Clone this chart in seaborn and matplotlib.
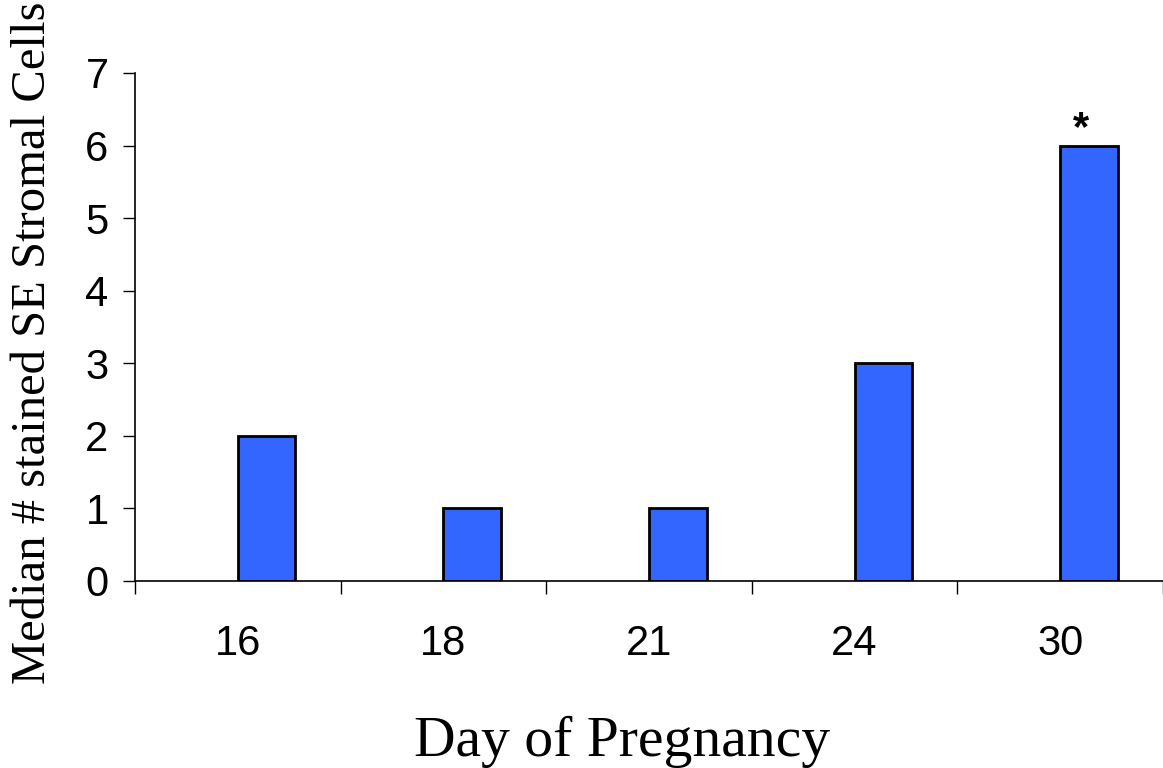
import pandas as pd
import matplotlib
matplotlib.use("Agg")
import matplotlib.pyplot as plt
import seaborn as sns

days = ['16', '18', '21', '24', '30']
median_cells = [2, 1, 1, 3, 6]
significant = ['', '', '', '', '*']

# Excel style: an empty first series pushes the real bar right of the category centre
df = pd.DataFrame({
    'Day': days * 2,
    'Median': [float('nan')] * len(days) + median_cells,
    'Series': ['blank'] * len(days) + ['median'] * len(days),
})

sns.set_style('white')
plt.rcParams['font.family'] = ['Liberation Sans', 'DejaVu Sans']
plt.rcParams['text.color'] = 'black'
plt.rcParams['xtick.color'] = 'black'
plt.rcParams['ytick.color'] = 'black'

fig = plt.figure(figsize=(11.63, 7.68), dpi=100)
ax = fig.add_axes([135 / 1163, 187 / 768, 1 - 135 / 1163, 508 / 768])

sns.barplot(data=df, x='Day', y='Median', hue='Series', hue_order=['blank', 'median'],
            palette={'blank': 'white', 'median': '#3366FF'}, saturation=1, width=0.56,
            edgecolor='black', linewidth=2, dodge=True, legend=False, ax=ax, errorbar=None)

ax.set_ylim(0, 7)
ax.set_yticks(range(0, 8))
ax.set_xlim(-0.5, 4.43)

# boundary ticks between categories, labels at the centres
ax.set_xticks([i - 0.5 for i in range(len(days) + 1)])
ax.set_xticklabels([])
ax.set_xticks(range(len(days)), minor=True)
ax.set_xticklabels(days, minor=True)
ax.tick_params(axis='x', which='major', direction='out', length=9, width=1, color='black', bottom=True)
ax.tick_params(axis='x', which='minor', length=0, pad=31, labelsize=30)
ax.tick_params(axis='y', direction='out', length=9, width=1, color='black', left=True, pad=10, labelsize=30)

for s in ['top', 'right']:
    ax.spines[s].set_visible(False)
for s in ['left', 'bottom']:
    ax.spines[s].set_color('black')
    ax.spines[s].set_linewidth(1.2)

for i, mark in enumerate(significant):
    if mark:
        ax.annotate(mark, xy=(i + 0.1, median_cells[i]), xytext=(0, 12),
                    textcoords='offset points', ha='center', va='center',
                    fontsize=30, fontweight='bold')

ax.set_xlabel('')
ax.set_ylabel('')
fig.text(622 / 1163, 1 - 742 / 768, 'Day of Pregnancy', ha='center', va='center',
         fontsize=41.5, family=['Liberation Serif', 'DejaVu Serif'])
fig.text(33 / 1163, 1 - 343 / 768, 'Median # stained SE Stromal Cells', ha='center', va='center',
         rotation=90, fontsize=35, family=['Liberation Serif', 'DejaVu Serif'])

fig.savefig('out.png', dpi=100)
